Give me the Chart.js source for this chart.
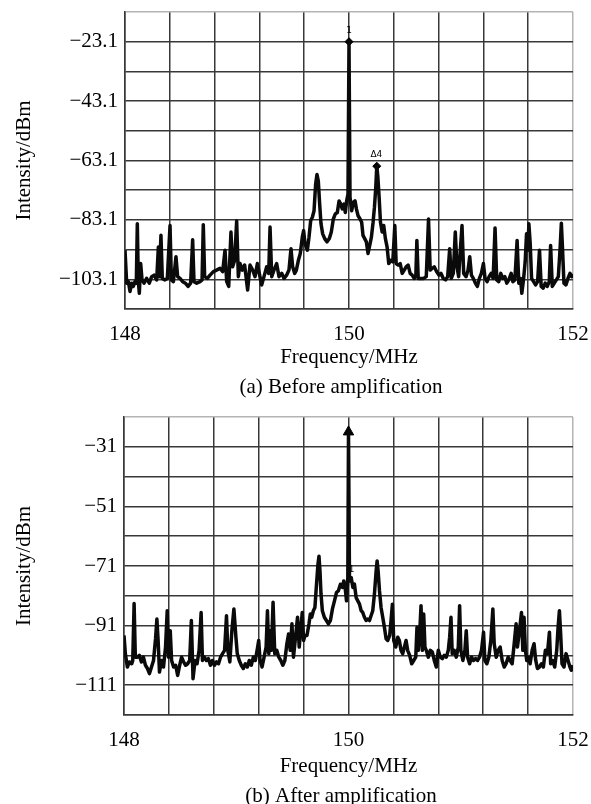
<!DOCTYPE html>
<html>
<head>
<meta charset="utf-8">
<script src="https://cdn.jsdelivr.net/npm/chart.js@4.4.0/dist/chart.umd.min.js"></script>
<style>
  html, body { margin: 0; padding: 0; background: #fff; }
  .panel { position: relative; width: 591px; }
  #panelA { height: 400px; }
  #panelB { height: 404px; }
</style>
</head>
<body>
<div class="panel" id="panelA"><canvas id="chartA"></canvas></div>
<div class="panel" id="panelB"><canvas id="chartB"></canvas></div>
<script>
// Axis ticks
const xGrid = [148, 148.4, 148.8, 149.2, 149.6, 150, 150.4, 150.8, 151.2, 151.6, 152];
const xLabels = [148, 150, 152];
const yGridA = [-113.1, -103.1, -93.1, -83.1, -73.1, -63.1, -53.1, -43.1, -33.1, -23.1, -13.1];
const yLabelsA = [-103.1, -83.1, -63.1, -43.1, -23.1];
const yGridB = [-121, -111, -101, -91, -81, -71, -61, -51, -41, -31, -21];
const yLabelsB = [-111, -91, -71, -51, -31];

// (a) Before amplification - frequency (MHz) and intensity (dBm)
const freqA = [
  148.000,148.015,148.030,148.045,148.060,148.074,148.089,148.101,148.110,148.119,
  148.128,148.140,148.152,148.170,148.193,148.217,148.238,148.259,148.283,148.298,
  148.307,148.321,148.333,148.357,148.378,148.402,148.414,148.432,148.455,148.470,
  148.491,148.515,148.539,148.563,148.586,148.604,148.616,148.640,148.670,148.688,
  148.699,148.711,148.735,148.759,148.789,148.818,148.848,148.872,148.893,148.908,
  148.926,148.946,148.961,148.979,148.997,149.012,149.027,149.048,149.068,149.095,
  149.116,149.140,149.161,149.182,149.199,149.220,149.241,149.265,149.283,149.295,
  149.310,149.330,149.354,149.375,149.399,149.420,149.443,149.464,149.482,149.497,
  149.515,149.530,149.548,149.565,149.583,149.595,149.607,149.628,149.643,149.658,
  149.673,149.688,149.702,149.714,149.726,149.738,149.750,149.765,149.783,149.804,
  149.824,149.842,149.860,149.878,149.896,149.911,149.926,149.940,149.955,149.967,
  149.979,149.991,150.000,
  150.009,150.024,150.039,150.054,150.066,150.081,150.099,150.113,150.125,150.140,
  150.155,150.170,150.185,150.200,150.215,150.227,150.239,150.248,150.257,150.269,
  150.281,150.296,150.310,150.325,150.340,150.355,150.373,150.391,150.409,150.421,
  150.439,150.457,150.475,150.493,150.510,150.528,150.546,150.564,150.582,150.597,
  150.606,150.618,150.642,150.666,150.690,150.710,150.725,150.743,150.761,150.782,
  150.803,150.821,150.842,150.863,150.881,150.899,150.913,150.931,150.949,150.964,
  150.979,150.994,151.009,151.024,151.045,151.063,151.078,151.093,151.110,151.128,
  151.146,151.164,151.182,151.200,151.215,151.233,151.251,151.269,151.287,151.304,
  151.319,151.337,151.355,151.373,151.391,151.409,151.427,151.448,151.463,151.481,
  151.501,151.516,151.531,151.543,151.558,151.573,151.585,151.597,151.606,151.618,
  151.630,151.648,151.666,151.684,151.701,151.716,151.734,151.752,151.770,151.788,
  151.800,151.815,151.833,151.851,151.869,151.884,151.896,151.907,151.919,151.937,
  151.955,151.973,151.988,152.000
];
const dbA = [
  -93.3,-104.4,-103.9,-107.2,-104.4,-105.5,-103.9,-104.4,-84.4,-103.9,
  -107.8,-97.8,-103.3,-104.4,-102.8,-104.4,-102.2,-101.7,-103.3,-92.2,
  -102.2,-88.3,-102.8,-103.3,-102.8,-85.0,-103.3,-103.9,-95.5,-102.2,
  -102.8,-103.9,-104.4,-105.5,-104.4,-89.8,-103.9,-104.4,-103.9,-103.3,
  -84.7,-102.2,-102.8,-101.7,-100.5,-100.0,-99.4,-100.5,-93.3,-103.9,
  -105.5,-87.2,-98.9,-96.7,-83.5,-102.2,-97.8,-100.0,-98.3,-106.7,
  -98.3,-100.0,-102.2,-97.8,-101.1,-105.0,-102.2,-98.9,-101.1,-85.5,
  -102.2,-100.0,-97.8,-102.2,-101.1,-102.8,-101.7,-100.0,-92.8,-98.9,
  -101.1,-100.0,-96.7,-94.4,-88.9,-86.7,-91.1,-93.3,-88.9,-83.3,
  -82.2,-80.0,-71.1,-67.8,-70.0,-77.8,-84.4,-87.8,-89.4,-90.5,
  -89.4,-87.2,-82.8,-81.1,-80.6,-76.7,-77.8,-79.4,-77.8,-80.6,
  -76.7,-74.4,-23.1,
  -75.5,-80.0,-77.2,-76.7,-79.4,-81.7,-82.8,-83.9,-88.3,-89.4,
  -90.5,-94.4,-91.7,-88.9,-83.9,-78.9,-72.2,-65.0,-68.3,-75.5,
  -83.9,-87.2,-85.0,-89.4,-92.2,-97.8,-96.7,-97.2,-85.0,-97.8,
  -98.3,-97.8,-101.1,-100.0,-98.9,-98.3,-101.1,-101.7,-102.8,-101.7,
  -90.0,-102.8,-102.8,-102.8,-102.2,-82.8,-100.0,-99.4,-98.9,-100.5,
  -101.7,-101.1,-102.8,-103.3,-102.2,-92.8,-102.8,-101.1,-87.2,-98.9,
  -102.2,-93.3,-85.0,-101.1,-102.2,-100.0,-95.5,-101.7,-102.8,-104.4,
  -105.5,-102.8,-101.1,-97.8,-102.8,-103.9,-102.2,-101.1,-102.8,-85.8,
  -103.3,-103.9,-101.1,-102.8,-102.2,-104.4,-103.3,-101.1,-103.9,-103.3,
  -90.0,-104.4,-102.8,-107.8,-103.3,-97.2,-87.8,-93.3,-84.4,-91.1,
  -102.8,-103.9,-105.0,-103.9,-93.3,-105.5,-106.1,-104.4,-105.5,-103.9,
  -91.7,-105.5,-104.4,-103.3,-102.2,-93.3,-84.2,-93.3,-104.4,-105.0,
  -102.8,-101.1,-102.2,-101.3
];

// (b) After amplification
const freqB = [
  148.000,148.012,148.030,148.048,148.069,148.078,148.090,148.101,148.119,148.137,
  148.155,148.173,148.191,148.209,148.227,148.245,148.263,148.281,148.293,148.304,
  148.316,148.334,148.352,148.370,148.385,148.397,148.412,148.424,148.442,148.460,
  148.478,148.496,148.513,148.531,148.549,148.567,148.585,148.600,148.615,148.633,
  148.651,148.669,148.687,148.699,148.716,148.734,148.752,148.770,148.788,148.806,
  148.824,148.842,148.860,148.878,148.896,148.913,148.925,148.943,148.961,148.979,
  148.997,149.009,149.027,149.045,149.063,149.081,149.099,149.116,149.134,149.152,
  149.170,149.188,149.200,149.212,149.230,149.248,149.266,149.278,149.290,149.301,
  149.313,149.328,149.343,149.361,149.379,149.397,149.415,149.433,149.451,149.466,
  149.481,149.496,149.510,149.528,149.546,149.561,149.576,149.588,149.600,149.612,
  149.630,149.648,149.660,149.672,149.687,149.701,149.713,149.728,149.737,149.746,
  149.755,149.767,149.785,149.803,149.821,149.839,149.857,149.875,149.893,149.910,
  149.928,149.946,149.958,149.970,149.982,149.994,150.000,
  150.009,150.024,150.039,150.053,150.068,150.083,150.098,150.113,150.127,150.142,
  150.157,150.172,150.187,150.201,150.216,150.231,150.246,150.255,150.264,150.276,
  150.290,150.305,150.320,150.335,150.350,150.367,150.379,150.391,150.403,150.421,
  150.439,150.453,150.468,150.483,150.498,150.513,150.527,150.545,150.563,150.581,
  150.599,150.610,150.622,150.634,150.646,150.658,150.670,150.681,150.693,150.711,
  150.729,150.747,150.764,150.782,150.800,150.818,150.836,150.853,150.871,150.889,
  150.901,150.913,150.924,150.942,150.960,150.978,150.990,151.001,151.019,151.037,
  151.049,151.061,151.079,151.096,151.114,151.132,151.150,151.167,151.185,151.203,
  151.215,151.233,151.250,151.268,151.286,151.298,151.316,151.333,151.351,151.369,
  151.387,151.404,151.422,151.440,151.458,151.476,151.493,151.505,151.523,151.541,
  151.553,151.564,151.576,151.588,151.600,151.618,151.636,151.653,151.668,151.683,
  151.701,151.719,151.736,151.754,151.772,151.790,151.801,151.819,151.837,151.855,
  151.867,151.879,151.890,151.902,151.920,151.938,151.956,151.973,151.985,152.000
];
const dbB = [
  -94.3,-100.4,-104.9,-103.2,-103.8,-102.7,-83.6,-101.6,-101.6,-101.0,
  -103.2,-101.6,-104.3,-105.4,-107.1,-104.9,-102.7,-95.4,-88.8,-96.0,
  -106.6,-102.7,-104.9,-98.2,-86.0,-101.6,-92.7,-102.7,-104.9,-104.3,
  -107.7,-104.3,-101.6,-103.2,-104.3,-103.8,-102.7,-89.3,-108.8,-102.7,
  -103.8,-99.3,-86.6,-102.7,-101.6,-102.7,-102.1,-104.3,-102.7,-104.3,
  -103.2,-103.8,-101.6,-100.4,-99.3,-87.7,-99.3,-103.2,-92.7,-85.4,
  -94.9,-100.4,-102.7,-104.3,-105.4,-103.8,-104.9,-102.7,-104.3,-101.6,
  -102.7,-98.8,-96.0,-102.7,-104.9,-101.6,-98.2,-86.0,-100.4,-92.7,
  -99.3,-83.2,-100.4,-99.3,-101.6,-102.7,-104.3,-102.7,-97.1,-93.8,
  -99.3,-90.4,-101.6,-94.9,-88.2,-98.2,-91.6,-86.6,-96.0,-94.3,
  -94.3,-90.4,-87.1,-88.2,-86.0,-84.9,-78.2,-70.4,-67.7,-72.7,
  -80.4,-86.0,-88.2,-89.3,-90.4,-89.3,-85.4,-82.7,-79.9,-79.3,
  -77.1,-78.2,-76.0,-78.2,-82.7,-74.9,-26.0,
  -76.0,-74.9,-78.2,-77.1,-81.6,-82.7,-83.8,-86.0,-86.6,-88.2,
  -89.3,-88.8,-89.3,-87.7,-86.0,-80.4,-72.7,-69.3,-72.7,-79.3,
  -84.9,-88.2,-91.6,-95.4,-96.0,-94.3,-89.3,-83.8,-96.0,-98.2,
  -94.9,-96.0,-99.3,-100.4,-98.2,-96.0,-99.3,-101.0,-103.8,-102.7,
  -101.6,-91.6,-99.3,-93.8,-84.3,-99.3,-87.1,-98.2,-99.3,-101.6,
  -99.3,-99.9,-102.7,-104.9,-99.3,-101.6,-102.1,-101.0,-101.6,-99.3,
  -94.9,-88.2,-100.4,-99.3,-101.6,-98.2,-84.3,-99.3,-102.7,-99.3,
  -92.7,-101.6,-103.8,-101.6,-102.7,-102.1,-102.7,-101.6,-99.3,-93.2,
  -102.7,-103.8,-101.6,-96.0,-85.4,-97.1,-101.6,-99.3,-98.2,-102.7,
  -104.9,-103.8,-101.6,-102.7,-103.8,-97.1,-90.4,-98.2,-92.7,-86.6,
  -99.3,-88.2,-99.3,-102.7,-101.6,-103.8,-99.3,-97.1,-102.7,-105.4,
  -104.9,-103.8,-104.9,-99.3,-100.4,-93.2,-103.8,-102.7,-104.9,-99.3,
  -91.6,-86.0,-93.8,-103.8,-104.9,-100.4,-102.7,-104.9,-106.0,-104.3
];

// Analyzer markers (frequency, dBm) and their small labels
const markFreqA = [150.000, 150.248];
const markDbA = [-23.1, -65.0];
const noteFreqA = [150.000, 150.244];
const noteDbA = [-19.3, -61.3];
const noteTextA = ['1', '\u03944'];
const markFreqB = [150.000];
const markDbB = [-26.0];
const noteFreqB = [150.027];
const noteDbB = [-72.3];
const noteTextB = ['1'];

const serif = '"Liberation Serif", "Times New Roman", serif';
const gridDark = '#383838';
const gridLight = '#b4b4b4';

function minusLabel(v, digits) {
    return '\u2212' + Math.abs(v).toFixed(digits);
}

// draws marker labels and the panel caption
const notesPlugin = {
    id: 'notes',
    afterDatasetsDraw(chart, args, opts) {
        const ctx = chart.ctx;
        const x = chart.scales.x, y = chart.scales.y;
        ctx.save();
        ctx.fillStyle = '#000';
        ctx.textAlign = 'center';
        ctx.textBaseline = 'middle';
        ctx.font = '9px "DejaVu Sans", sans-serif';
        opts.freq.forEach((f, i) => {
            ctx.fillText(opts.text[i], x.getPixelForValue(f), y.getPixelForValue(opts.db[i]));
        });
        ctx.font = '21px ' + serif;
        ctx.fillText(opts.caption, opts.captionX, opts.captionY);
        ctx.restore();
    }
};

function makeChart(id, o) {
    const ctx = document.getElementById(id);
    return new Chart(ctx, {
        type: 'line',
        data: {
            datasets: [
                {
                    data: o.freq.map((f, i) => ({ x: f, y: o.db[i] })),
                    borderColor: '#0a0a0a',
                    borderWidth: 3.5,
                    borderJoinStyle: 'round',
                    pointRadius: 0,
                    tension: 0
                },
                {
                    data: o.markFreq.map((f, i) => ({ x: f, y: o.markDb[i] })),
                    showLine: false,
                    pointStyle: o.markStyle,
                    pointRadius: o.markRadius,
                    backgroundColor: '#000',
                    borderColor: '#000',
                    borderWidth: 1
                }
            ]
        },
        options: {
            responsive: true,
            maintainAspectRatio: false,
            animation: false,
            layout: { padding: { top: o.padTop, right: 18, left: 0, bottom: 0 } },
            scales: {
                x: {
                    type: 'linear',
                    min: 148,
                    max: 152,
                    afterBuildTicks: s => { s.ticks = xGrid.map(v => ({ value: v })); },
                    afterFit: s => {
                        s.height = o.xHeight;
                        s.paddingLeft = 0;
                        s.paddingRight = 0;
                    },
                    grid: {
                        color: c => (c.tick && c.tick.value === 152) ? gridLight : gridDark,
                        lineWidth: 1.5,
                        drawTicks: false
                    },
                    border: { display: true, color: gridDark, width: 1.5 },
                    ticks: {
                        autoSkip: false,
                        maxRotation: 0,
                        padding: 13,
                        color: '#000',
                        font: { family: serif, size: 21 },
                        callback: v => xLabels.includes(v) ? String(v) : ''
                    },
                    title: {
                        display: true,
                        text: 'Frequency/MHz',
                        color: '#000',
                        font: { family: serif, size: 21 },
                        padding: { top: 0, bottom: o.xTitlePad }
                    }
                },
                y: {
                    type: 'linear',
                    min: o.yGrid[0],
                    max: o.yGrid[o.yGrid.length - 1],
                    afterBuildTicks: s => { s.ticks = o.yGrid.map(v => ({ value: v })); },
                    afterFit: s => {
                        s.width = o.yWidth;
                        s.paddingTop = 0;
                        s.paddingBottom = 0;
                    },
                    grid: {
                        color: c => (c.tick && c.tick.value === o.yGrid[o.yGrid.length - 1]) ? gridLight : gridDark,
                        lineWidth: 1.5,
                        drawTicks: false
                    },
                    border: { display: true, color: gridDark, width: 1.5 },
                    ticks: {
                        autoSkip: false,
                        padding: 7,
                        color: '#000',
                        font: { family: serif, size: 21 },
                        callback: v => o.yLabels.includes(v) ? minusLabel(v, o.digits) : ''
                    },
                    title: {
                        display: true,
                        text: 'Intensity/dBm',
                        color: '#000',
                        font: { family: serif, size: 21 },
                        padding: { top: 12, bottom: 0 }
                    }
                }
            },
            plugins: {
                legend: { display: false },
                tooltip: { enabled: false },
                notes: {
                    freq: o.noteFreq,
                    db: o.noteDb,
                    text: o.noteText,
                    caption: o.caption,
                    captionX: 341,
                    captionY: o.captionY
                }
            }
        },
        plugins: [notesPlugin]
    });
}

makeChart('chartA', {
    freq: freqA, db: dbA,
    markFreq: markFreqA, markDb: markDbA, markStyle: 'rectRot', markRadius: 4,
    noteFreq: noteFreqA, noteDb: noteDbA, noteText: noteTextA,
    yGrid: yGridA, yLabels: yLabelsA, digits: 1,
    padTop: 12, yWidth: 125, xHeight: 91, xTitlePad: 30,
    caption: '(a) Before amplification', captionY: 387
});

makeChart('chartB', {
    freq: freqB, db: dbB,
    markFreq: markFreqB, markDb: markDbB, markStyle: 'triangle', markRadius: 6,
    noteFreq: noteFreqB, noteDb: noteDbB, noteText: noteTextB,
    yGrid: yGridB, yLabels: yLabelsB, digits: 0,
    padTop: 17, yWidth: 124, xHeight: 89, xTitlePad: 25,
    caption: '(b) After amplification', captionY: 396
});
</script>
</body>
</html>
